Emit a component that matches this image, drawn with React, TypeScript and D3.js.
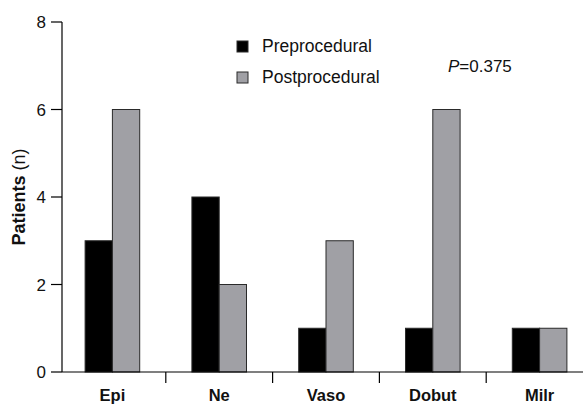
import React from "react";
import * as d3 from "d3";

const categories = ["Epi", "Ne", "Vaso", "Dobut", "Milr"];
const preValues = [3, 4, 1, 1, 1];
const postValues = [6, 2, 3, 6, 1];
const yTicks = [0, 2, 4, 6, 8];
const seriesNames = ["Preprocedural", "Postprocedural"];
const seriesColors = ["#000000", "#a0a0a5"];

export default function App() {
  const W = 583, H = 404;
  const axisX = 62;
  const y = d3.scaleLinear().domain([0, 8]).range([372, 22]);
  const x = d3.scaleBand<string>().domain(categories).range([59, 593]).padding(0);
  const inner = d3.scaleBand<string>().domain(["pre", "post"]).range([0, x.bandwidth()]).paddingInner(0).paddingOuter(0.956);
  const font = "Arial, 'Liberation Sans', Helvetica, sans-serif";
  const series = [preValues, postValues];
  const keys = ["pre", "post"];

  return (
    <svg width={W} height={H} style={{ position: "absolute", left: 0, top: 0, display: "block", background: "#fff" }} fontFamily={font}>
      {categories.map((c, i) => (
        <g key={c} transform={`translate(${x(c)},0)`}>
          {keys.map((k, s) => (
            <rect
              key={k}
              x={inner(k)}
              y={y(series[s][i])}
              width={inner.bandwidth()}
              height={y(0) - y(series[s][i])}
              fill={seriesColors[s]}
              stroke="#2a2a2a"
              strokeWidth={1}
            />
          ))}
        </g>
      ))}
      <line x1={axisX} x2={axisX} y1={y(8)} y2={y(0)} stroke="#000" strokeWidth={1.2} />
      {yTicks.map((t) => (
        <g key={t}>
          <line x1={axisX - 11} x2={axisX} y1={y(t)} y2={y(t)} stroke="#000" strokeWidth={1.2} />
          <text x={axisX - 16} y={y(t)} dy="0.36em" textAnchor="end" fontSize={17} fill="#111">{t}</text>
        </g>
      ))}
      <line x1={axisX} x2={W} y1={y(0)} y2={y(0)} stroke="#000" strokeWidth={1.2} />
      {categories.slice(1).map((c) => (
        <line key={c} x1={x(c)} x2={x(c)} y1={y(0)} y2={y(0) + 11} stroke="#000" strokeWidth={1.2} />
      ))}
      {categories.map((c) => (
        <text key={c} x={(x(c) as number) + x.bandwidth() / 2} y={401} textAnchor="middle" fontSize={16.5} fontWeight="bold" fill="#111">{c}</text>
      ))}
      <text transform={`translate(25,${(y(0) + y(8)) / 2}) rotate(-90)`} textAnchor="middle" fontSize={18} fill="#111">
        <tspan fontWeight="bold">Patients</tspan>
        <tspan> (n)</tspan>
      </text>
      {seriesNames.map((n, s) => (
        <g key={n} transform={`translate(237,${41 + s * 31})`}>
          <rect x={0} y={0} width={11} height={11} fill={seriesColors[s]} stroke="#2a2a2a" strokeWidth={1} />
          <text x={25} y={11} fontSize={17.5} fill="#111">{n}</text>
        </g>
      ))}
      <text x={448} y={72} fontSize={17} fill="#111">
        <tspan fontStyle="italic">P</tspan>
        <tspan>=0.375</tspan>
      </text>
    </svg>
  );
}
